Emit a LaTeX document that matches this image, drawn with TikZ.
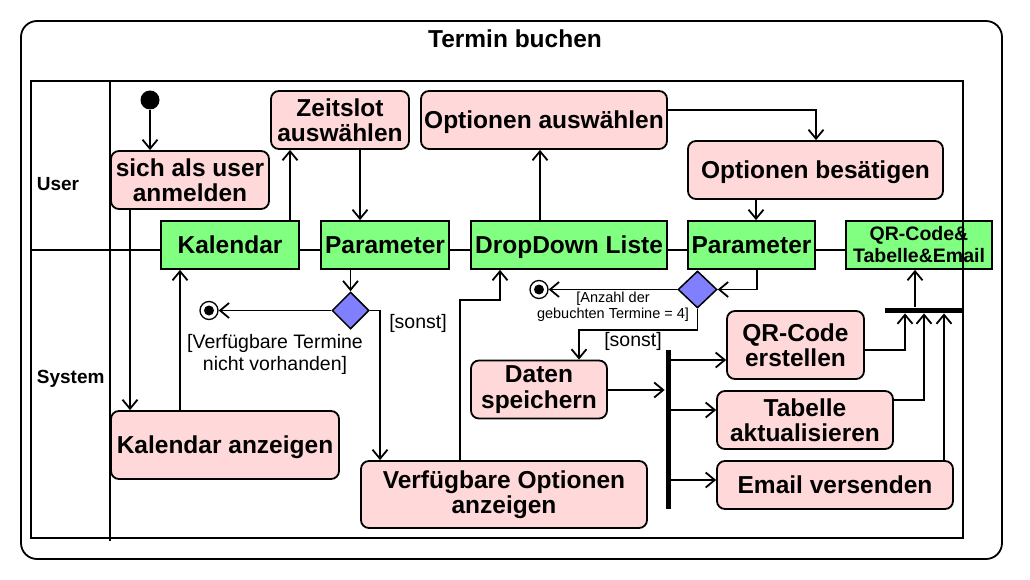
\documentclass[tikz,border=0pt]{standalone}
\usepackage{fontspec}
\setmainfont{Liberation Sans}
\usetikzlibrary{arrows.meta,shapes.geometric}
\definecolor{actpink}{RGB}{255,217,217}
\definecolor{objgreen}{RGB}{128,255,128}
\definecolor{decblue}{RGB}{128,128,255}
\begin{document}
\begin{tikzpicture}[x=1pt,y=-1pt, line width=1.8pt,
 act/.style={draw, fill=actpink, rounded corners=8pt, align=center, inner sep=0pt, font=\bfseries\fontsize{24.5}{25.5}\selectfont},
 obj/.style={draw, fill=objgreen, inner sep=0pt, minimum height=48pt, align=center, font=\bfseries\fontsize{24.5}{25.5}\selectfont},
 oneline/.style={text depth=0pt},
 dec/.style={diamond, draw, fill=decblue, inner sep=0pt, minimum width=37pt, minimum height=37pt, line width=1.5pt},
 finalnode/.style={circle, draw, fill=white, minimum size=18pt, inner sep=0pt, line width=1.3pt, path picture={\fill[black] (path picture bounding box.center) circle (5pt);}},
 flow/.style={-{Straight Barb[length=9pt,width=15pt]}},
 bar/.style={fill=black, inner sep=0pt},
 guard/.style={align=center, inner sep=0pt, font=\fontsize{19.5}{22}\selectfont},
 smallguard/.style={align=center, inner sep=0pt, font=\fontsize{14.5}{16}\selectfont},
 lanelabel/.style={font=\bfseries\fontsize{19}{22}\selectfont, anchor=base west, inner sep=0pt}
]
\useasboundingbox (0,0) rectangle (1030,580);
\draw[rounded corners=16pt] (21,21) rectangle (1002,559);
\node[font=\bfseries\fontsize{24.5}{26}\selectfont, anchor=base, inner sep=0pt] (title) at (515,48) {Termin buchen};
% lane line
\draw (31,250) -- (846,250);
\node[lanelabel] (user) at (36,191) {User};
\node[lanelabel] (system) at (36,383) {System};

% nodes
\node[circle, fill=black, minimum size=19pt, inner sep=0pt] (init) at (150,100) {};
\node[act, minimum width=158pt, minimum height=58pt] (anmelden) at (190,180) {sich als user\\anmelden};
\node[act, minimum width=138pt, minimum height=58pt] (zeitslot) at (340,120) {Zeitslot\\auswählen};
\node[act, oneline, minimum width=246pt, minimum height=58pt] (optausw) at (544,120) {Optionen auswählen};
\node[act, oneline, minimum width=255pt, minimum height=58pt] (optbes) at (815.5,170) {Optionen besätigen};

\node[obj, oneline, minimum width=138pt] (kal) at (230,245) {Kalendar};
\node[obj, oneline, minimum width=128pt] (par1) at (385,245) {Parameter};
\node[obj, oneline, minimum width=196pt] (dd) at (569,245) {DropDown Liste};
\node[obj, oneline, minimum width=127pt] (par2) at (751.5,245) {Parameter};
\node[obj, minimum width=146pt, font=\bfseries\fontsize{19.5}{22}\selectfont] (qr) at (919,245) {QR-Code\&\\Tabelle\&Email};

\node[dec] (dia1) at (350.5,310.5) {};
\node[finalnode] (fin1) at (209,310.5) {};
\node[dec, minimum width=39pt] (dia2) at (697.5,289.5) {};
\node[finalnode] (fin2) at (539,289.5) {};

\node[act, oneline, minimum width=228pt, minimum height=68pt] (kalanz) at (225,445) {Kalendar anzeigen};
\node[act, minimum width=286pt, minimum height=67pt] (verf) at (504,494.5) {Verfügbare Optionen\\anzeigen};
\node[act, minimum width=136pt, minimum height=58pt] (daten) at (539,389.5) {Daten\\speichern};
\node[act, minimum width=137pt, minimum height=68pt] (qrc) at (795.5,345) {QR-Code\\erstellen};
\node[act, minimum width=176pt, minimum height=58pt] (tab) at (805,420) {Tabelle\\aktualisieren};
\node[act, oneline, minimum width=236pt, minimum height=48pt] (email) at (835,485) {Email versenden};

\node[bar, minimum width=5pt, minimum height=159pt] (fork) at (668,429.5) {};
\node[bar, minimum width=78pt, minimum height=5pt] (join) at (924,310) {};

% guards
\node[guard] (g1) at (275,354) {[Verfügbare Termine\\nicht vorhanden]};
\node[guard] (g2) at (418,323) {[sonst]};
\node[smallguard] (g3) at (613,307) {[Anzahl der\\gebuchten Termine = 4]};
\node[guard] (g4) at (633,341) {[sonst]};

% connectors
\draw[flow] (init) -- (init |- anmelden.north);
\draw[flow] (anmelden.south -| 130,0) -- (kalanz.north -| 130,0);
\draw[flow] (kalanz.north -| 180,0) -- (kal.south -| 180,0);
\draw[flow] (kal.north -| 290,0) -- (zeitslot.south -| 290,0);
\draw[flow] (zeitslot.south -| 360,0) -- (par1.north -| 360,0);
\draw[flow] (par1.south -| dia1.north) -- (dia1.north);
\draw[flow] (dia1.west) -- (fin1);
\draw[flow] (dia1.east) -| (verf.north -| 380,0);
\draw[flow] (verf.north -| 460,0) -- (460,300) -- (500,300) -- (dd.south -| 500,0);
\draw[flow] (dd.north -| 540,0) -- (optausw.south -| 540,0);
\draw[flow] (optausw.east |- 0,110) -| (optbes.north -| 816,0);
\draw[flow] (optbes.south -| 756,0) -- (par2.north -| 756,0);
\draw[flow] (par2.south -| 757,0) |- (dia2.east);
\draw[flow] (dia2.west) -- (fin2);
\draw[flow] (dia2.south) -- (dia2.south |- 0,330) -| (daten.north -| 579,0);
\draw[flow] (daten.east |- 0,390) -- (fork.west |- 0,390);
\draw[flow] (fork.east |- 0,360) -- (qrc.west |- 0,360);
\draw[flow] (fork.east |- 0,410) -- (tab.west |- 0,410);
\draw[flow] (fork.east |- 0,480) -- (email.west |- 0,480);
\draw[flow] (qrc.east |- 0,350) -| (join.south -| 905,0);
\draw[flow] (tab.east |- 0,400) -| (join.south -| 924,0);
\draw[flow] (email.north -| 944,0) -- (join.south -| 944,0);
\draw[flow] (join.north -| 915,0) -- (qr.south -| 915,0);

% frame (drawn over nodes)
\draw (31,81) rectangle (963,538);
\draw (110,80) -- (110,541);
\end{tikzpicture}
\end{document}
